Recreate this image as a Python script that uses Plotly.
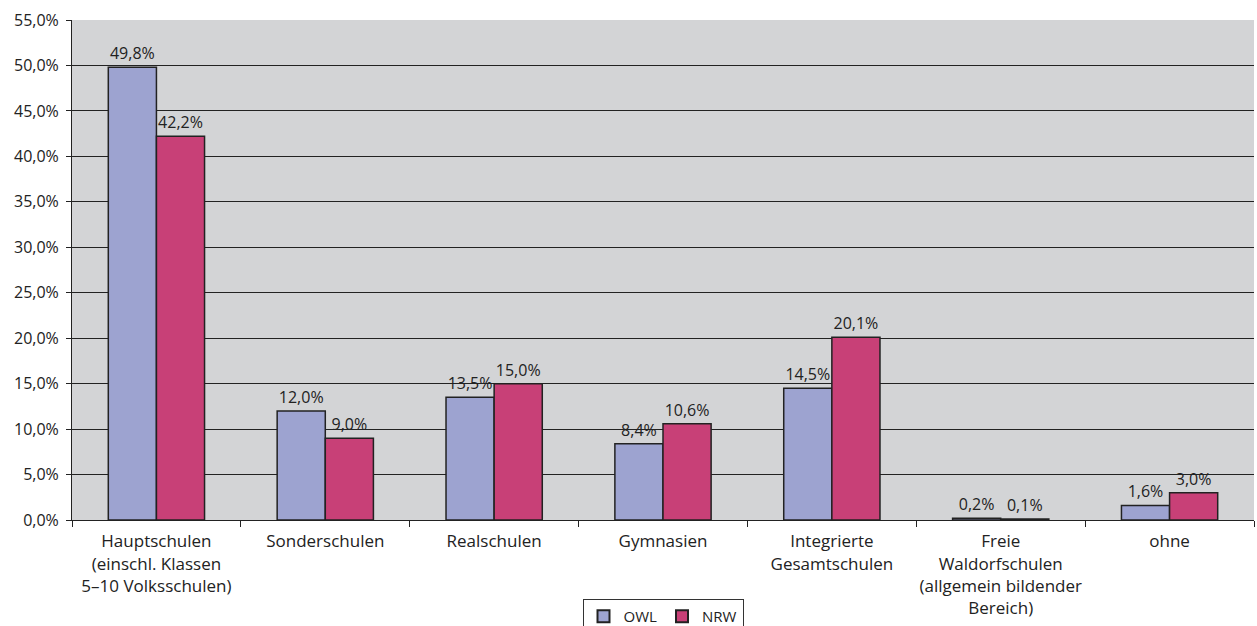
import plotly.graph_objects as go

categories = [
    "Hauptschulen<br>(einschl. Klassen<br>5–10 Volksschulen)",
    "Sonderschulen",
    "Realschulen",
    "Gymnasien",
    "Integrierte<br>Gesamtschulen",
    "Freie<br>Waldorfschulen<br>(allgemein bildender<br>Bereich)",
    "ohne",
]
owl = [49.8, 12.0, 13.5, 8.4, 14.5, 0.2, 1.6]
nrw = [42.2, 9.0, 15.0, 10.6, 20.1, 0.1, 3.0]
y_ticks = [0, 5, 10, 15, 20, 25, 30, 35, 40, 45, 50, 55]
y_ticktext = [f"{v:.1f}%".replace(".", ",") for v in y_ticks]

FONT = "Open Sans"
TXT = "#222222"
FS = 17

fig = go.Figure()
fig.add_trace(go.Bar(
    name="OWL", x=categories, y=owl,
    marker=dict(color="#9DA3D0", line=dict(color="#222222", width=1.5)),
    texttemplate="%{y:.1f}%", textposition="outside",
    textfont=dict(family=FONT, size=FS - 1, color=TXT), cliponaxis=False,
))
fig.add_trace(go.Bar(
    name="NRW", x=categories, y=nrw,
    marker=dict(color="#C84077", line=dict(color="#222222", width=1.5)),
    texttemplate="%{y:.1f}%", textposition="outside",
    textfont=dict(family=FONT, size=FS - 1, color=TXT), cliponaxis=False,
))

fig.update_layout(
    width=1257, height=626,
    margin=dict(l=72, r=3, t=20, b=106, autoexpand=False),
    paper_bgcolor="white",
    plot_bgcolor="#D3D4D6",
    separators=",.",
    barmode="group",
    bargap=0.43,
    bargroupgap=0,
    font=dict(family=FONT, size=FS, color=TXT),
    showlegend=True,
    legend=dict(
        orientation="h", x=0.5, xanchor="center", y=-0.158, yanchor="top",
        bordercolor="#333333", borderwidth=1, bgcolor="white",
        font=dict(family=FONT, size=15, color=TXT),
        itemwidth=30, tracegroupgap=0, itemsizing="constant",
    ),
)
fig.update_xaxes(
    showline=True, linecolor="#222222", linewidth=1,
    ticks="outside", tickson="boundaries", ticklen=6, tickcolor="#222222",
    tickfont=dict(family=FONT, size=FS, color=TXT), tickangle=0,
    ticklabelstandoff=6,
    showgrid=False, automargin=False,
)
fig.update_yaxes(
    range=[0, 55], tickvals=y_ticks, ticktext=y_ticktext,
    showline=True, linecolor="#222222", linewidth=1,
    ticks="outside", ticklen=5, tickcolor="#222222",
    gridcolor="#222222", gridwidth=1,
    tickfont=dict(family=FONT, size=FS - 1, color=TXT),
    ticklabelstandoff=4,
    zeroline=False, automargin=False,
)

fig.write_html(
    "out.html",
    config={"displayModeBar": False},
    post_script="document.body.style.margin='0';document.body.style.padding='0';",
)
